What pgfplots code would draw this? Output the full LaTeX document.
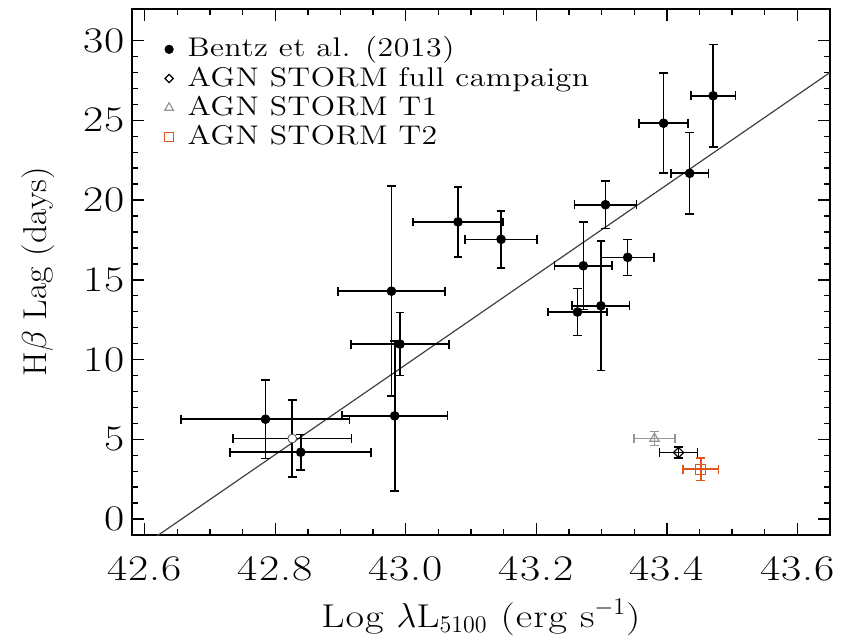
\documentclass[border=0pt]{standalone}
\usepackage{pgfplots}
\pgfplotsset{compat=1.18}
\usepackage{fontspec}
\newfontfamily\wide{lmroman17-regular.otf}[FakeStretch=1.22, LetterSpace=3]
\newfontfamily\widel{lmroman12-regular.otf}[FakeStretch=1.18, LetterSpace=2]
\newfontfamily\wideb{lmroman17-regular.otf}[FakeStretch=1.08]
\definecolor{stormorange}{RGB}{224,86,26}
\definecolor{stormgray}{RGB}{150,150,150}
\definecolor{fitgray}{RGB}{64,64,64}
\begin{document}
\begin{tikzpicture}
\begin{axis}[
  name=ax,
  width=349.15pt, height=263.15pt, scale only axis,
  xmin=42.58, xmax=43.65, ymin=-1, ymax=32,
  xtick={42.6,42.8,43.0,43.2,43.4,43.6},
  xticklabels={42.6,42.8,43.0,43.2,43.4,43.6},
  ytick={0,5,10,15,20,25,30},
  minor x tick num=3, minor y tick num=4,
  tick align=inside, xtick pos=both, ytick pos=both,
  major tick length=6pt, minor tick length=3.2pt,
  every tick/.style={black, line width=0.7pt},
  axis line style={line width=1pt},
  /pgf/number format/assume math mode=true,
  tick label style={font=\wide\fontsize{18}{20}\selectfont},
  xticklabel style={yshift=-7pt},
  xlabel={Log $\lambda$L$_{5100}$ (erg s$^{-1}$)},
  ylabel={H$\beta$ Lag (days)},
  xlabel style={font=\wide\fontsize{16.5}{19}\selectfont, at={(axis description cs:0.5,-0.1748)}, anchor=base},
  ylabel style={font=\wideb\fontsize{16.5}{19}\selectfont, at={(axis description cs:-0.1227,0.5)}, anchor=base},
  legend image code/.code={\draw[#1] plot coordinates {(0pt,0pt)};},
  legend cell align=left,
  legend style={at={(axis description cs:0.0467,0.9513)}, anchor=north west,
    draw=none, fill=none, inner sep=0pt, column sep=7pt, row sep=0pt,
    font=\widel\fontsize{13.5}{15}\selectfont,
    nodes={inner sep=0pt, text height=11.1pt, text depth=3.5pt}},
  error bars/error bar style={line width=0.8pt},
  error bars/error mark options={rotate=90, line width=0.8pt, mark size=2.2pt},
]
% legend entries
\addlegendimage{only marks, mark=*, mark size=2.1pt, black}
\addlegendentry{Bentz et al. (2013)}
\addlegendimage{only marks, mark=square, mark size=1.45pt, black, mark options={rotate=45, line width=0.6pt}}
\addlegendentry{AGN STORM full campaign}
\addlegendimage{only marks, mark=triangle, mark size=2.5pt, stormgray, mark options={line width=0.6pt}}
\addlegendentry{AGN STORM T1}
\addlegendimage{only marks, mark=square, mark size=2.2pt, stormorange, mark options={line width=0.6pt}}
\addlegendentry{AGN STORM T2}

% fit line
\addplot[fitgray, line width=0.6pt, forget plot] coordinates {(42.55,-3.0) (43.70,29.41)};

% Bentz et al. (2013)
\addplot[only marks, mark=*, mark size=2.2pt, black, forget plot,
  error bars/.cd, x dir=both, x explicit, y dir=both, y explicit]
coordinates {
  (42.785,6.26) +- (0.129,2.46)
  (42.839,4.19) +- (0.108,1.12)
  (42.978,14.29) +- (0.082,6.59)
  (42.991,10.97) +- (0.075,1.98)
  (42.983,6.47) +- (0.081,4.71)
  (43.080,18.63) +- (0.069,2.18)
  (43.146,17.54) +- (0.055,1.78)
  (43.471,26.54) +- (0.034,3.22)
  (43.395,24.82) +- (0.0375,3.13)
  (43.435,21.68) +- (0.029,2.57)
  (43.306,19.71) +- (0.0475,1.49)
  (43.272,15.88) +- (0.044,2.73)
  (43.340,16.41) +- (0.040,1.13)
  (43.299,13.37) +- (0.044,4.05)
  (43.263,12.98) +- (0.045,1.48)
};
% open circle
\addplot[only marks, mark=*, mark size=2.2pt, black, mark options={fill=white, draw=black!70, line width=0.4pt}, forget plot,
  error bars/.cd, x dir=both, x explicit, y dir=both, y explicit]
coordinates {
  (42.826,5.05) +- (0.091,2.43)
};
% AGN STORM full campaign
\addplot[only marks, mark=square, mark size=1.8pt, black, mark options={rotate=45, line width=0.6pt}, forget plot,
  error bars/.cd, x dir=both, x explicit, y dir=both, y explicit]
coordinates {
  (43.418,4.17) +- (0.029,0.33)
};
% AGN STORM T1
\addplot[only marks, mark=triangle, mark size=2.7pt, stormgray, mark options={line width=0.6pt}, forget plot,
  error bars/.cd, x dir=both, x explicit, y dir=both, y explicit,
  error bar style={line width=0.8pt, stormgray}, error mark options={rotate=90, line width=0.8pt, mark size=2.2pt, stormgray}]
coordinates {
  (43.381,5.05) +- (0.0315,0.45)
};
% AGN STORM T2
\addplot[only marks, mark=square, mark size=2.5pt, stormorange, mark options={line width=0.6pt}, forget plot,
  error bars/.cd, x dir=both, x explicit, y dir=both, y explicit,
  error bar style={line width=0.8pt, stormorange}, error mark options={rotate=90, line width=0.8pt, mark size=2.2pt, stormorange}]
coordinates {
  (43.452,3.12) +- (0.027,0.69)
};
\end{axis}
\pgfresetboundingbox
\path ([shift={(-65.85pt,-52.35pt)}]ax.south west) rectangle ([shift={(9pt,4.35pt)}]ax.north east);
\end{tikzpicture}
\end{document}
